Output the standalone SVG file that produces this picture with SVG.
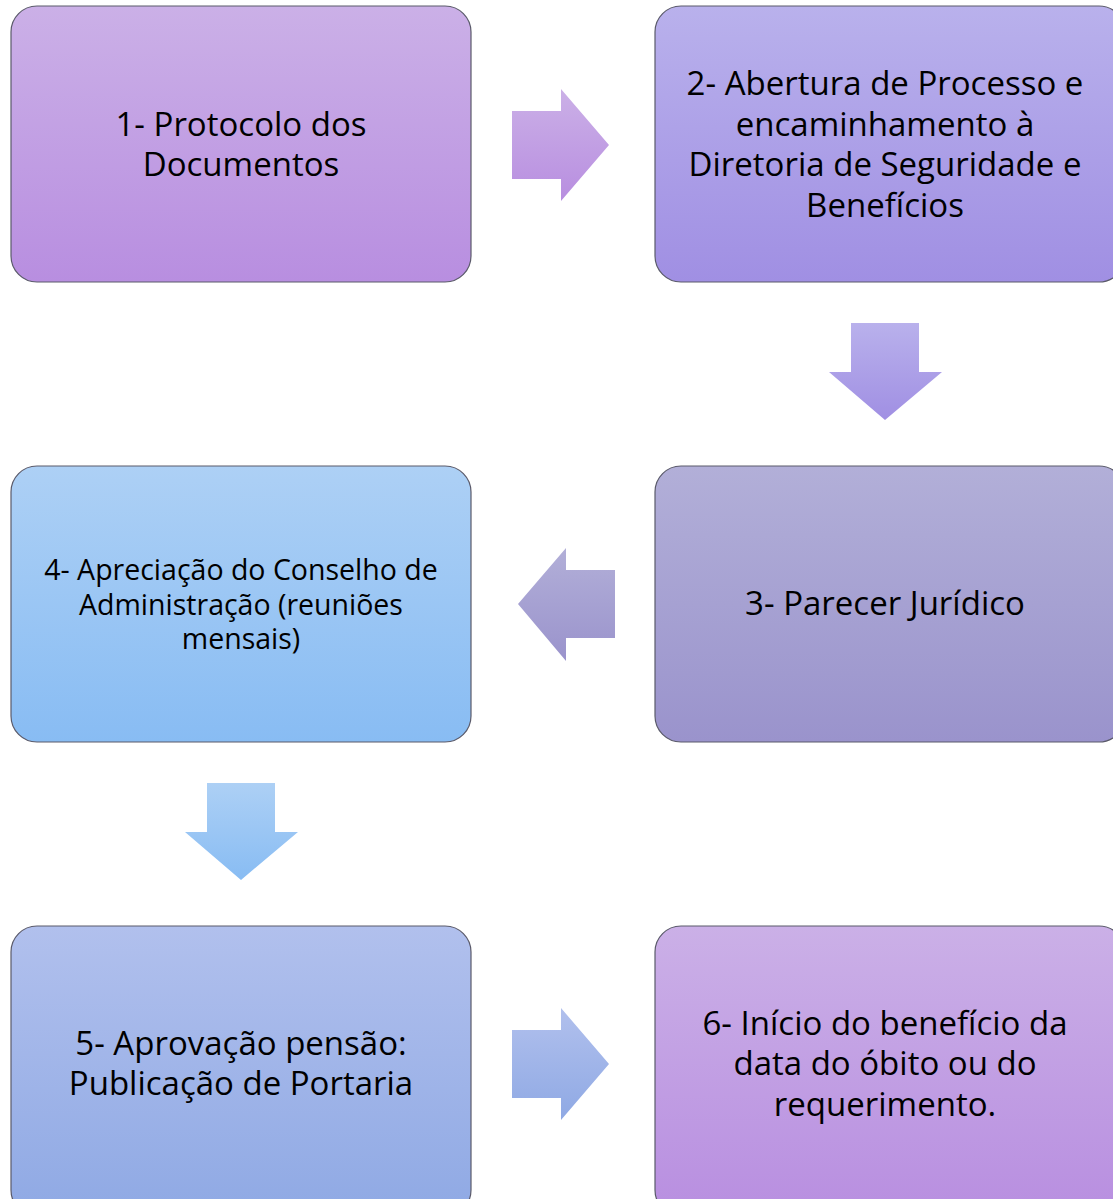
<svg xmlns="http://www.w3.org/2000/svg" width="1113" height="1199" viewBox="0 0 1113 1199">
<defs>
<linearGradient id="gP" x1="0" y1="0" x2="0" y2="1"><stop offset="0" stop-color="#cbb0e7"/><stop offset="1" stop-color="#b88ee0"/></linearGradient>
<linearGradient id="gV" x1="0" y1="0" x2="0" y2="1"><stop offset="0" stop-color="#b9b1ec"/><stop offset="1" stop-color="#a08fe3"/></linearGradient>
<linearGradient id="gG" x1="0" y1="0" x2="0" y2="1"><stop offset="0" stop-color="#b2afd8"/><stop offset="1" stop-color="#9a93cc"/></linearGradient>
<linearGradient id="gB" x1="0" y1="0" x2="0" y2="1"><stop offset="0" stop-color="#add0f5"/><stop offset="1" stop-color="#88bcf3"/></linearGradient>
<linearGradient id="gBV" x1="0" y1="0" x2="0" y2="1"><stop offset="0" stop-color="#b1c0ed"/><stop offset="1" stop-color="#8fa9e4"/></linearGradient>
</defs>
<style>
.box{stroke:#5a5a6a;stroke-width:1.2}
.t{font-family:"Open Sans","Noto Sans",sans-serif;font-size:33px;fill:#000;text-anchor:middle}
.s{font-size:28.5px}
</style>
<g id="connectors">
<polygon points="512,111 561,111 561,89 609,145 561,201 561,179 512,179" fill="url(#gP)"/>
<polygon points="851,323 919,323 919,372 942,372 885,420 829,372 851,372" fill="url(#gV)"/>
<polygon points="615,570 566,570 566,548 518,604 566,661 566,638 615,638" fill="url(#gG)"/>
<polygon points="207,783 275,783 275,832 298,832 241,880 185,832 207,832" fill="url(#gB)"/>
<polygon points="512,1030 561,1030 561,1008 609,1064 561,1120 561,1098 512,1098" fill="url(#gBV)"/>
</g>
<g id="node1">
<rect class="box" x="11" y="6" width="460" height="276" rx="26" fill="url(#gP)"/>
<text class="t" x="241" y="136">1- Protocolo dos</text>
<text class="t" x="241" y="176">Documentos</text>
</g>
<g id="node2">
<rect class="box" x="655" y="6" width="470" height="276" rx="26" fill="url(#gV)"/>
<text class="t" x="885" y="95">2- Abertura de Processo e</text>
<text class="t" x="885" y="136">encaminhamento à</text>
<text class="t" x="885" y="176">Diretoria de Seguridade e</text>
<text class="t" x="885" y="217">Benefícios</text>
</g>
<g id="node3">
<rect class="box" x="655" y="466" width="470" height="276" rx="26" fill="url(#gG)"/>
<text class="t" x="885" y="615">3- Parecer Jurídico</text>
</g>
<g id="node4">
<rect class="box" x="11" y="466" width="460" height="276" rx="26" fill="url(#gB)"/>
<text class="t s" x="241" y="580">4- Apreciação do Conselho de</text>
<text class="t s" x="241" y="615">Administração (reuniões</text>
<text class="t s" x="241" y="649">mensais)</text>
</g>
<g id="node5">
<rect class="box" x="11" y="926" width="460" height="290" rx="26" fill="url(#gBV)"/>
<text class="t" x="241" y="1055">5- Aprovação pensão:</text>
<text class="t" x="241" y="1095">Publicação de Portaria</text>
</g>
<g id="node6">
<rect class="box" x="655" y="926" width="470" height="290" rx="26" fill="url(#gP)"/>
<text class="t" x="885" y="1035">6- Início do benefício da</text>
<text class="t" x="885" y="1075">data do óbito ou do</text>
<text class="t" x="885" y="1116">requerimento.</text>
</g>
</svg>
